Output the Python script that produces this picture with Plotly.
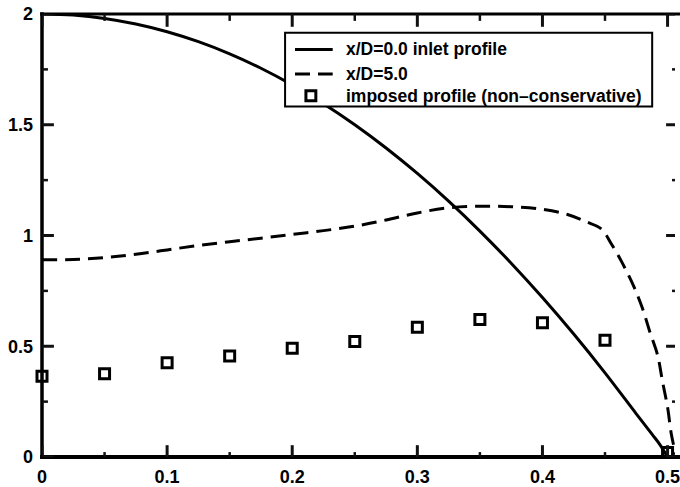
import plotly.graph_objects as go

# Inlet velocity profile at x/D = 0.0
inlet_x = [0.0, 0.025, 0.05, 0.075, 0.1, 0.125, 0.15, 0.175, 0.2, 0.225, 0.25,
           0.275, 0.3, 0.325, 0.35, 0.375, 0.4, 0.425, 0.45, 0.475, 0.488, 0.494, 0.5]
inlet_y = [2.0, 1.995, 1.98, 1.955, 1.92, 1.875, 1.82, 1.755, 1.68, 1.595, 1.50,
           1.395, 1.28, 1.155, 1.02, 0.875, 0.72, 0.555, 0.38, 0.195, 0.10, 0.055, 0.0]

# Profile at x/D = 5.0
down_x = [0.0, 0.025, 0.05, 0.075, 0.1, 0.125, 0.15, 0.175, 0.2, 0.225, 0.25, 0.275,
          0.3, 0.325, 0.35, 0.375, 0.4, 0.42, 0.435, 0.447, 0.455, 0.464, 0.473,
          0.48, 0.486, 0.492, 0.496, 0.5, 0.503, 0.507]
down_y = [0.89, 0.892, 0.90, 0.915, 0.935, 0.955, 0.972, 0.988, 1.005, 1.022, 1.042, 1.07,
          1.102, 1.125, 1.132, 1.13, 1.118, 1.095, 1.062, 1.03, 0.963, 0.874, 0.77,
          0.67, 0.562, 0.46, 0.34, 0.225, 0.104, 0.0]

# Imposed (non-conservative) profile samples
imposed_x = [0.0, 0.05, 0.1, 0.15, 0.2, 0.25, 0.3, 0.35, 0.4, 0.45, 0.5]
imposed_y = [0.364, 0.376, 0.425, 0.456, 0.491, 0.522, 0.586, 0.621, 0.606, 0.527, 0.02]

series_names = ["x/D=0.0 inlet profile", "x/D=5.0", "imposed profile (non\u2013conservative)"]

x_tick_vals = [0, 0.1, 0.2, 0.3, 0.4, 0.5]
x_tick_text = ["0", "0.1", "0.2", "0.3", "0.4", "0.5"]
x_minor_vals = [0.05, 0.15, 0.25, 0.35, 0.45]
y_tick_vals = [0, 0.5, 1, 1.5, 2]
y_tick_text = ["0", "0.5", "1", "1.5", "2"]
y_minor_vals = [0.25, 0.75, 1.25, 1.75]

FONT = "Liberation Sans, Arial, sans-serif"
TICK_COLOR = "#111111"
W, H = 680, 487
ML, MT, MB = 42, 14, 23
PW, PH = W - ML, H - MT - MB          # plot area in pixels
X_END = PW / 1261.0                   # visible right edge of the frame, data units
DASH = "15px,8px"


def px_w(p):  # horizontal pixels -> paper fraction
    return p / PW


def px_h(p):  # vertical pixels -> paper fraction
    return p / PH


def paper_x(px):  # absolute page x -> paper coordinate
    return (px - ML) / PW


def paper_y(py):  # absolute page y -> paper coordinate
    return (H - MB - py) / PH


fig = go.Figure()
fig.add_trace(go.Scatter(
    x=inlet_x, y=inlet_y, mode="lines", name=series_names[0],
    line=dict(color="black", width=3), line_shape="spline"))
fig.add_trace(go.Scatter(
    x=down_x, y=down_y, mode="lines", name=series_names[1],
    line=dict(color="black", width=3, dash=DASH), line_shape="spline"))
fig.add_trace(go.Scatter(
    x=imposed_x, y=imposed_y, mode="markers", name=series_names[2],
    marker=dict(symbol="square-open", size=10, color="black", line=dict(width=3)),
    cliponaxis=False))

shapes = []
# frame: left, bottom, top (the right edge lies just past the page)
shapes.append(dict(type="line", xref="paper", yref="paper", x0=0, x1=0, y0=-0.004, y1=1.004,
                   line=dict(color="black", width=3.5), layer="above"))
shapes.append(dict(type="line", xref="paper", yref="paper", x0=-0.003, x1=1.01, y0=0, y1=0,
                   line=dict(color="black", width=4), layer="above"))
shapes.append(dict(type="line", xref="paper", yref="paper", x0=-0.003, x1=1.01, y0=1, y1=1,
                   line=dict(color="black", width=3), layer="above"))


def x_tick(v, length_bottom, length_top, width):
    shapes.append(dict(type="line", xref="x", yref="paper", x0=v, x1=v, y0=0, y1=px_h(length_bottom),
                       line=dict(color=TICK_COLOR, width=width), layer="above"))
    shapes.append(dict(type="line", xref="x", yref="paper", x0=v, x1=v, y0=1, y1=1 - px_h(length_top),
                       line=dict(color=TICK_COLOR, width=width), layer="above"))


def y_tick(v, length_left, length_right, width):
    shapes.append(dict(type="line", xref="paper", yref="y", x0=0, x1=px_w(length_left), y0=v, y1=v,
                       line=dict(color=TICK_COLOR, width=width), layer="above"))
    shapes.append(dict(type="line", xref="paper", yref="y", x0=1, x1=1 - px_w(length_right), y0=v, y1=v,
                       line=dict(color=TICK_COLOR, width=width), layer="above"))


for v in x_tick_vals:
    x_tick(v, 12, 13, 3)
for v in x_minor_vals:
    x_tick(v, 5, 7, 2.5)
for v in y_tick_vals:
    y_tick(v, 12, 9, 3)
for v in y_minor_vals:
    y_tick(v, 6, 3, 2.5)

# legend box with its samples
LX0, LX1, LY0, LY1 = 287, 657, 33, 108
ROW_Y = [50, 75, 97]
SAMPLE_X0, SAMPLE_X1, TEXT_X = 297, 335, 347
shapes.append(dict(type="rect", xref="paper", yref="paper",
                   x0=paper_x(LX0), x1=paper_x(LX1), y0=paper_y(LY1), y1=paper_y(LY0),
                   fillcolor="white", line=dict(color="black", width=2), layer="above"))
shapes.append(dict(type="line", xref="paper", yref="paper",
                   x0=paper_x(SAMPLE_X0), x1=paper_x(SAMPLE_X1),
                   y0=paper_y(ROW_Y[0]), y1=paper_y(ROW_Y[0]),
                   line=dict(color="black", width=3), layer="above"))
shapes.append(dict(type="line", xref="paper", yref="paper",
                   x0=paper_x(SAMPLE_X0), x1=paper_x(SAMPLE_X1),
                   y0=paper_y(ROW_Y[1]), y1=paper_y(ROW_Y[1]),
                   line=dict(color="black", width=3, dash=DASH), layer="above"))
sq_c = (SAMPLE_X0 + SAMPLE_X1) / 2 - 3
shapes.append(dict(type="rect", xref="paper", yref="paper",
                   x0=paper_x(sq_c - 5), x1=paper_x(sq_c + 5),
                   y0=paper_y(ROW_Y[2] + 5), y1=paper_y(ROW_Y[2] - 5),
                   fillcolor="white", line=dict(color="black", width=3), layer="above"))

annotations = [
    dict(text="<b>%s</b>" % name, xref="paper", yref="paper", x=paper_x(TEXT_X), y=paper_y(ry),
         xanchor="left", yanchor="middle", showarrow=False, borderpad=0,
         font=dict(family=FONT, size=17.5, color="black"))
    for name, ry in zip(series_names, ROW_Y)
]

tickfont = dict(family=FONT, size=18, color="black", weight="bold")

fig.update_layout(
    width=W, height=H,
    margin=dict(l=ML, r=0, t=MT, b=MB),
    paper_bgcolor="white", plot_bgcolor="white",
    showlegend=False,
    xaxis=dict(
        range=[0, X_END], showgrid=False, zeroline=False, showline=False, ticks="",
        tickvals=x_tick_vals, ticktext=x_tick_text, tickfont=tickfont,
        ticklabelstandoff=7, ticklabeloverflow="allow"),
    yaxis=dict(
        range=[0, 2], showgrid=False, zeroline=False, showline=False, ticks="",
        tickvals=y_tick_vals, ticktext=y_tick_text, tickfont=tickfont,
        ticklabelstandoff=8),
    shapes=shapes,
    annotations=annotations,
)

fig.write_html("out.html")
